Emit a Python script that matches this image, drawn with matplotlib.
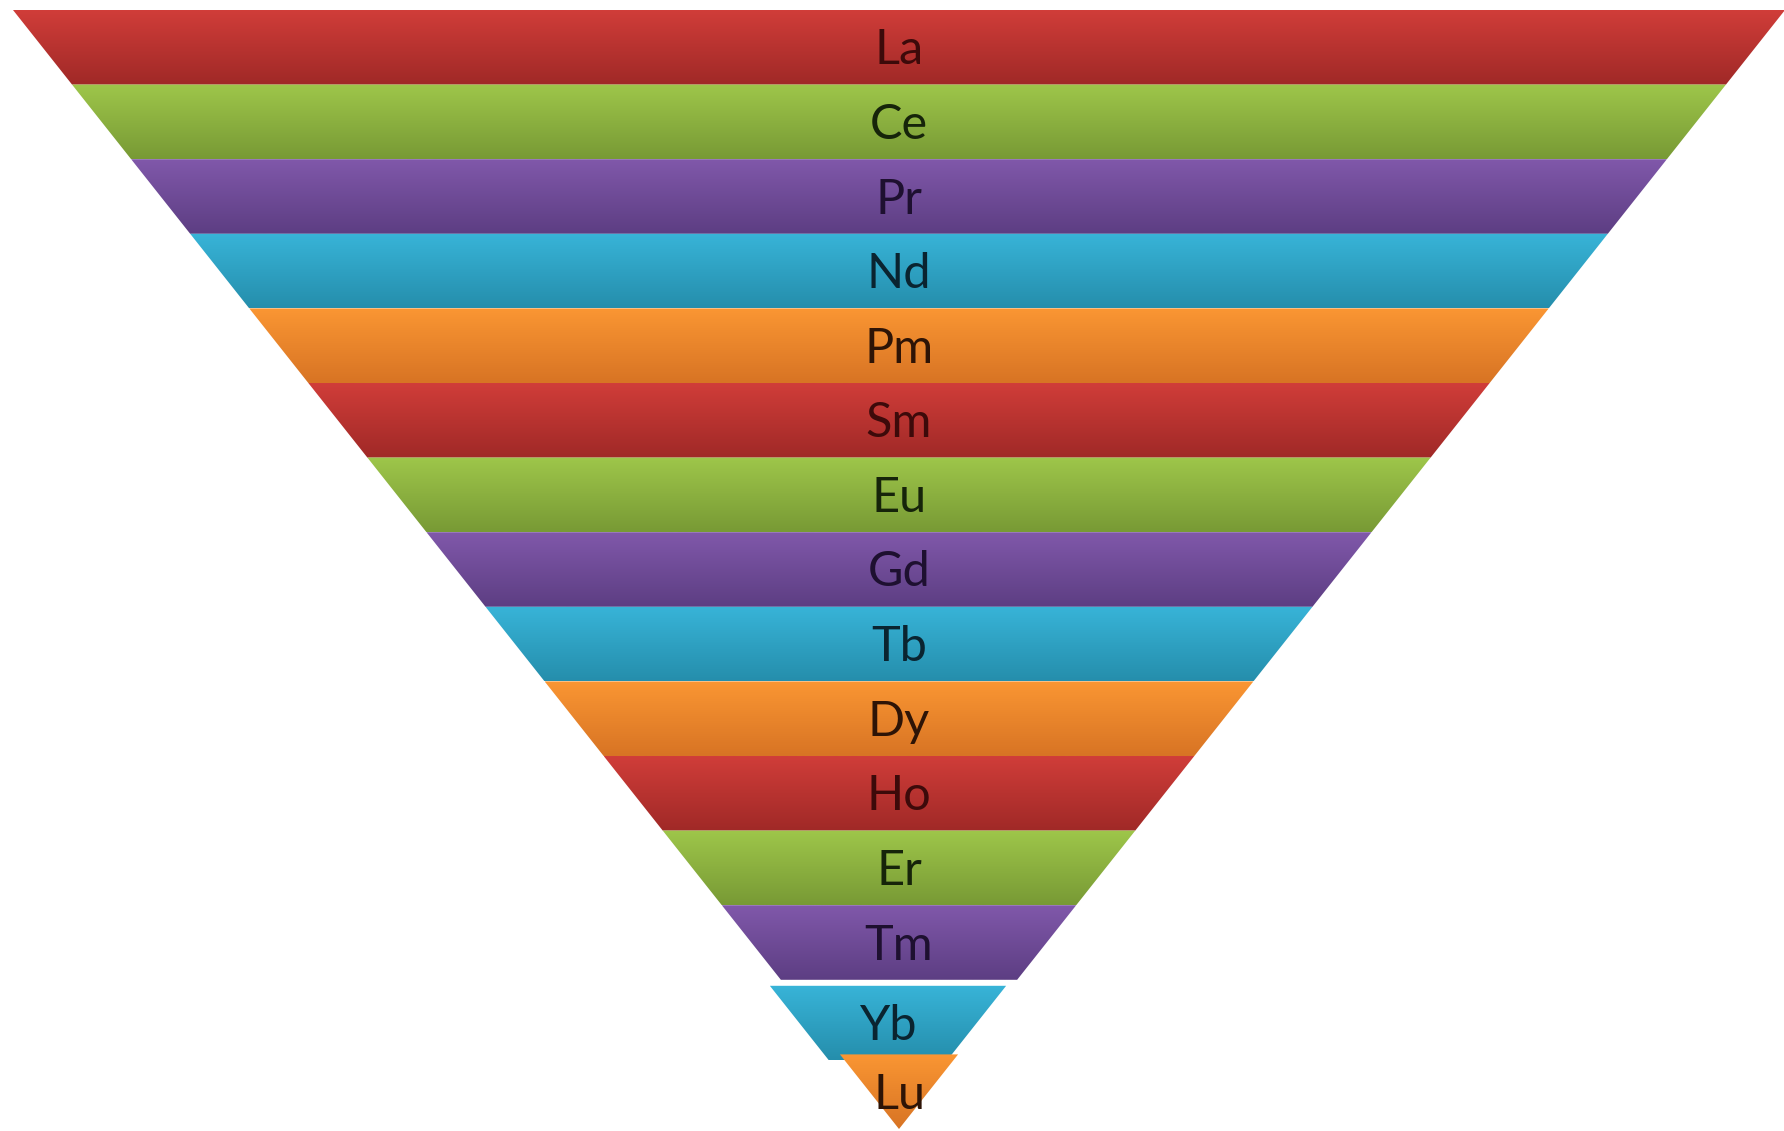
import numpy as np
import matplotlib
matplotlib.use('Agg')
import matplotlib.pyplot as plt
from matplotlib.patches import Polygon
from matplotlib.colors import to_rgb

# the fifteen lanthanides, top to bottom
elements = ['La', 'Ce', 'Pr', 'Nd', 'Pm', 'Sm', 'Eu', 'Gd',
            'Tb', 'Dy', 'Ho', 'Er', 'Tm', 'Yb', 'Lu']
levels = [1, 1, 1, 1, 1, 1, 1, 1, 1, 1, 1, 1, 1, 1, 1]
color_cycle = ['red', 'green', 'purple', 'blue', 'orange']

# light (top) and dark (bottom) shade of each band colour
shades = {
    'red':    ('#d03d39', '#a02927'),
    'green':  ('#9ec64a', '#789a35'),
    'purple': ('#8058aa', '#5d3e83'),
    'blue':   ('#38b4d8', '#258eac'),
    'orange': ('#fa9633', '#d87424'),
}
text_colors = {
    'red': '#3d0a0a', 'green': '#16240a', 'purple': '#1e1030',
    'blue': '#0a2430', 'orange': '#2e1406',
}
# Yb sits a little out of line in the original
offsets = {'Yb': (-11, 6)}

W, H = 1784, 1131
fig = plt.figure(figsize=(W / 100, H / 100), dpi=100)
ax = fig.add_axes([0, 0, 1, 1])
ax.set_xlim(0, W)
ax.set_ylim(H, 0)
ax.axis('off')

top_y = 10
bottom_y = 1129
cx = 899
half_top = 886
total = sum(levels)
scale_y = (bottom_y - top_y) / total

def half_width(y):
    return half_top * (bottom_y - y) / (bottom_y - top_y)

acc = 0
for i, (name, lev) in enumerate(zip(elements, levels)):
    y0 = top_y + acc * scale_y
    y1 = top_y + (acc + lev) * scale_y
    acc += lev
    dx, dy = offsets.get(name, (0, 0))
    y0d, y1d = y0 + dy, y1 + dy
    w0, w1 = half_width(y0), half_width(y1)
    verts = [(cx + dx - w0, y0d), (cx + dx + w0, y0d),
             (cx + dx + w1, y1d), (cx + dx - w1, y1d)]
    poly = Polygon(verts, closed=True, facecolor='none', edgecolor='none')
    ax.add_patch(poly)

    cname = color_cycle[i % len(color_cycle)]
    c_top, c_bot = (np.array(to_rgb(c)) for c in shades[cname])
    t = np.linspace(0, 1, 64)[:, None]
    grad = (c_top * (1 - t) + c_bot * t)[:, None, :]
    img = ax.imshow(grad, extent=(cx + dx - w0, cx + dx + w0, y1d, y0d),
                    aspect='auto', interpolation='bilinear', zorder=i + 1)
    img.set_clip_path(poly)

    ax.text(cx + dx * 1.0, (y0d + y1d) / 2 + 17, name, ha='center', va='baseline',
            fontsize=35, family=['Lato', 'DejaVu Sans'],
            color=text_colors[cname], zorder=50)

fig.savefig('out.png', dpi=100)
